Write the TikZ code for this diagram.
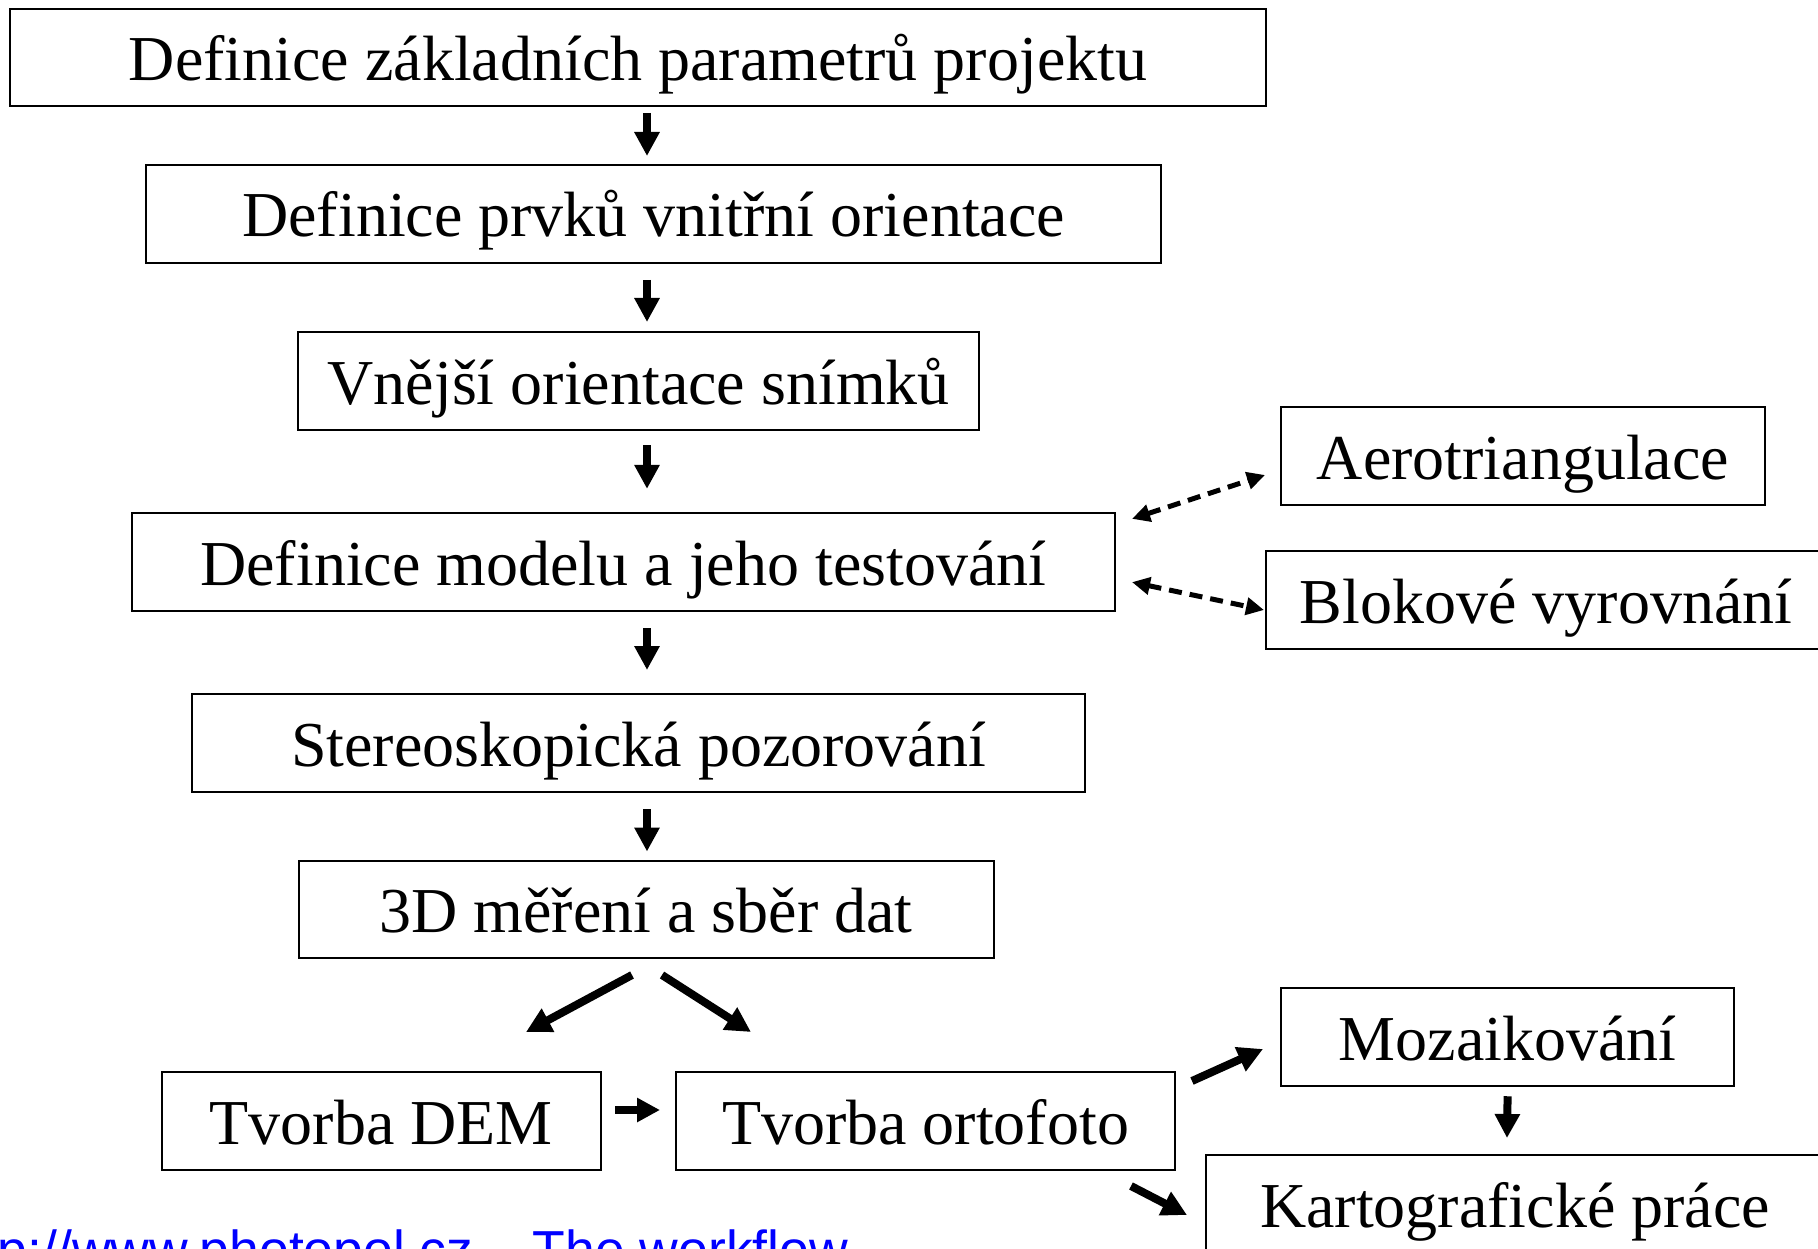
\documentclass[tikz,border=0pt]{standalone}
\usepackage{fontspec}
\setmainfont{Liberation Serif}
\newfontfamily\linkfont{Liberation Sans}
\usetikzlibrary{arrows.meta}
\begin{document}
\begin{tikzpicture}[x=1pt,y=-1pt,
  box/.style={draw, line width=2pt, inner sep=0pt, text height=46pt, text depth=0pt,
    font=\fontsize{64}{70}\selectfont},
  varr/.style={-{Triangle[length=24pt,width=24pt]}, line width=8pt},
  darr/.style={-{Triangle[length=25pt,width=25pt]}, line width=8pt},
  harr/.style={-{Triangle[length=23pt,width=23pt]}, line width=8pt},
  dasharr/.style={{Triangle[length=18pt,width=17pt]}-{Triangle[length=18pt,width=17pt]},
    line width=5pt, dash pattern=on 13pt off 8pt}]
\useasboundingbox (0,0) rectangle (1818,1249);
\clip (0,0) rectangle (1818,1249);
\coordinate (ax) at (647,0);
\node[box, minimum width=1256pt, minimum height=97pt] (b1) at (638,58) {Definice základních parametrů projektu};
\node[box, minimum width=1014.5pt, minimum height=98pt] (b2) at (653.7,214) {Definice prvků vnitřní orientace};
\node[box, minimum width=680.5pt, minimum height=98pt] (b3) at (638.7,381) {Vnější orientace snímků};
\node[box, minimum width=983.4pt, minimum height=98.3pt] (b4) at (623.3,562) {Definice modelu a jeho testování};
\node[box, minimum width=893pt, minimum height=98pt] (b5) at (638.5,743) {Stereoskopická pozorování};
\node[box, minimum width=695pt, minimum height=97pt] (b6) at (646,909.5) {3D měření a sběr dat};
\node[box, minimum width=438.6pt, minimum height=98pt] (b7) at (381.3,1121) {Tvorba DEM};
\node[box, minimum width=499pt, minimum height=98pt] (b8) at (925.5,1121) {Tvorba ortofoto};
\node[box, minimum width=453.7pt, minimum height=98.5pt] (b9) at (1507.6,1037) {Mozaikování};
\node[box, minimum width=618pt, minimum height=98pt] (b10) at (1515,1204) {Kartografické práce};
\node[box, minimum width=484pt, minimum height=98pt] (b11) at (1523,456) {Aerotriangulace};
\node[box, minimum width=560pt, minimum height=98pt] (b12) at (1546,600) {Blokové vyrovnání};
% vertical chain
\draw[varr, shorten <=5.5pt, shorten >=8pt] (b1.south -| ax) -- (b2.north -| ax);
\draw[varr, shorten <=16pt, shorten >=9pt] (b2.south -| ax) -- (b3.north -| ax);
\draw[varr, shorten <=14pt, shorten >=23pt] (b3.south -| ax) -- (b4.north -| ax);
\draw[varr, shorten <=16pt, shorten >=23pt] (b4.south -| ax) -- (b5.north -| ax);
\draw[varr, shorten <=16pt, shorten >=8.5pt] (b5.south -| ax) -- (b6.north -| ax);
% dashed links
\draw[dasharr] ([shift={(16,7)}]b4.north east) -- ([shift={(-15,19)}]b11.west);
\draw[dasharr] ([shift={(16,-30)}]b4.south east) -- ([shift={(-1,10)}]b12.west);
% branches
\draw[darr] ([shift={(-14,16)}]b6.south) -- ([shift={(144.7,-39)}]b7.north);
\draw[darr] ([shift={(16,16)}]b6.south) -- ([shift={(-174.5,-39)}]b8.north);
\draw[harr] ([shift={(13.4,-11)}]b7.east) -- ([shift={(-15,-11)}]b8.west);
\draw[darr] ([shift={(16,-40)}]b8.east) -- ([shift={(-16.75,12)}]b9.west);
\draw[varr] ([shift={(0,9)}]b9.south) -- ([shift={(-8,-16)}]b10.north);
\draw[darr] ([shift={(-45,15)}]b8.south east) -- ([shift={(-18,11)}]b10.west);
% source line
\node[anchor=base west, inner sep=0pt, text=blue, font=\linkfont\fontsize{53.5}{60}\selectfont] (src) at (-62,1268) {http://www.photopol.cz – The workflow};
\end{tikzpicture}
\end{document}
